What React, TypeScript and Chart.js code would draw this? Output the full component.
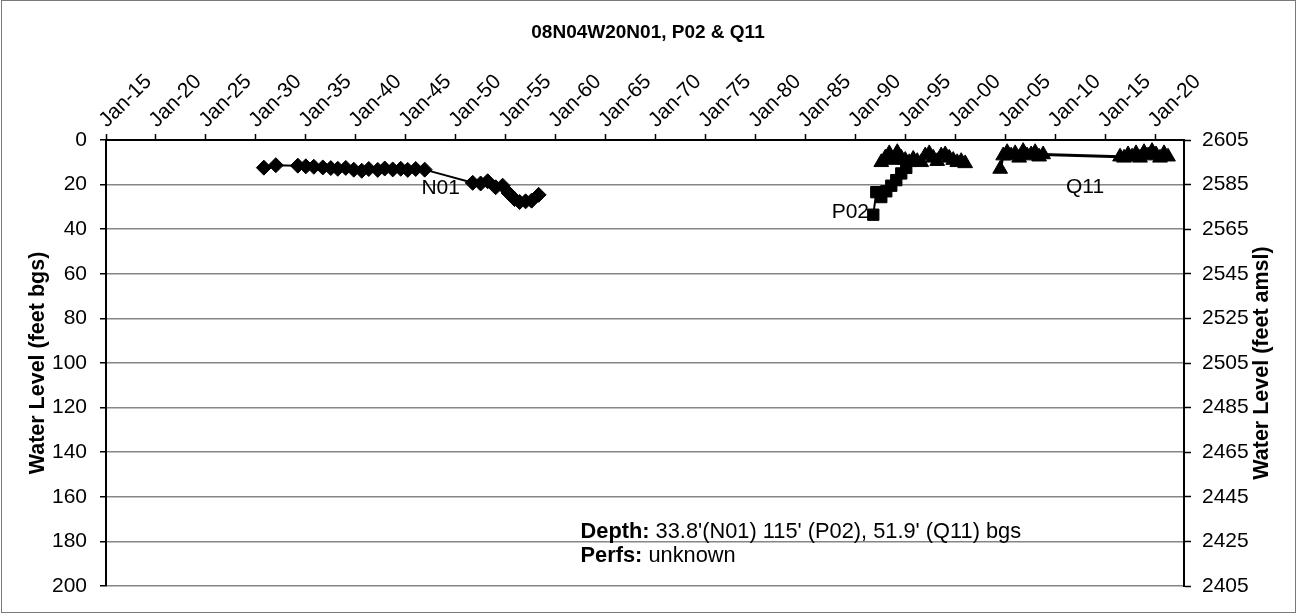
import React, { useEffect, useRef } from 'react';
import { Chart, registerables } from 'chart.js';

Chart.register(...registerables);

const TITLE = '08N04W20N01, P02 & Q11';
const LEFT_TITLE = 'Water Level (feet bgs)';
const RIGHT_TITLE = 'Water Level (feet amsl)';

const X_TICK_YEARS = [1915, 1920, 1925, 1930, 1935, 1940, 1945, 1950, 1955, 1960, 1965, 1970, 1975, 1980, 1985, 1990, 1995, 2000, 2005, 2010, 2015, 2020];
const X_TICK_LABELS = ['Jan-15', 'Jan-20', 'Jan-25', 'Jan-30', 'Jan-35', 'Jan-40', 'Jan-45', 'Jan-50', 'Jan-55', 'Jan-60', 'Jan-65', 'Jan-70', 'Jan-75', 'Jan-80', 'Jan-85', 'Jan-90', 'Jan-95', 'Jan-00', 'Jan-05', 'Jan-10', 'Jan-15', 'Jan-20'];
const LEFT_TICKS = [0, 20, 40, 60, 80, 100, 120, 140, 160, 180, 200];
const RIGHT_TICKS = [2405, 2425, 2445, 2465, 2485, 2505, 2525, 2545, 2565, 2585, 2605];

const N01_YEARS = [1930.8, 1932.0, 1934.2, 1935.0, 1935.8, 1936.7, 1937.5, 1938.2, 1939.0, 1939.8, 1940.6, 1941.3, 1942.2, 1942.9, 1943.7, 1944.5, 1945.2, 1946.0, 1946.9, 1951.7, 1952.5, 1953.2, 1954.0, 1954.7, 1955.3, 1955.9, 1956.4, 1957.0, 1957.6, 1958.3];
const N01_DEPTHS = [12.4, 11.3, 11.5, 11.8, 12.0, 12.3, 12.6, 12.9, 12.5, 13.3, 13.8, 13.0, 13.4, 12.8, 13.2, 12.9, 13.4, 13.0, 13.3, 19.2, 19.5, 18.5, 21.2, 20.5, 23.8, 26.5, 27.8, 27.5, 27.2, 24.6];

const P02_YEARS = [1991.8, 1992.1, 1992.6, 1993.1, 1993.6, 1994.1, 1994.6, 1995.1];
const P02_DEPTHS = [33.5, 23.4, 25.6, 23.0, 20.5, 18.0, 15.0, 12.5];

const P02B_YEARS = [1992.6, 1993.0, 1993.4, 1993.8, 1994.2, 1994.6, 1995.0, 1995.4, 1995.8, 1996.2, 1996.6, 1997.0, 1997.4, 1997.8, 1998.2, 1998.6, 1999.0, 1999.4, 1999.8, 2000.2, 2000.6, 2001.0];
const P02B_DEPTHS = [10.0, 8.0, 6.0, 9.0, 5.5, 8.0, 9.0, 10.0, 8.5, 9.5, 10.0, 7.0, 6.0, 8.0, 9.5, 7.0, 6.5, 8.0, 9.0, 10.0, 9.5, 10.5];

const Q11_YEARS = [2004.5, 2004.8, 2005.2, 2005.6, 2006.0, 2006.4, 2006.8, 2007.2, 2007.6, 2008.0, 2008.4, 2008.8, 2016.5, 2016.9, 2017.3, 2017.7, 2018.1, 2018.5, 2018.9, 2019.3, 2019.7, 2020.1, 2020.5, 2020.9, 2021.3];
const Q11_DEPTHS = [13.0, 7.0, 5.5, 7.0, 6.0, 8.0, 5.0, 7.0, 6.5, 5.5, 7.5, 6.5, 7.5, 8.0, 6.5, 7.5, 6.0, 8.0, 5.5, 7.0, 5.0, 6.5, 8.0, 6.0, 7.5];

const SERIES_LABELS = [
  { text: 'N01', year: 1948.5, depth: 21.5 },
  { text: 'P02', year: 1989.5, depth: 32.3 },
  { text: 'Q11', year: 2013.0, depth: 21.0 },
];

const NOTE_YEAR = 1962.5;
const NOTE_LINES = [
  { bold: 'Depth:', text: " 33.8'(N01) 115' (P02), 51.9' (Q11) bgs", depth: 175.8 },
  { bold: 'Perfs:', text: ' unknown', depth: 186.4 },
];

const FAMILY = '"Liberation Sans", Arial, sans-serif';
const FS = 21;
const FS_BIG = 21.5;
const FS_NOTE = 21.8;
const FS_TITLE = 19;

const toPoints = (xs: number[], ys: number[]) => xs.map((x, i) => ({ x, y: ys[i] }));

const overlay = {
  id: 'overlay',
  afterDraw(chart: any) {
    const { ctx, chartArea } = chart;
    const xs = chart.scales.x;
    const ys = chart.scales.y;
    ctx.save();
    ctx.strokeStyle = '#7a7a7a';
    ctx.lineWidth = 1;
    ctx.strokeRect(1.5, 0.5, 1294, 612);

    ctx.fillStyle = '#000';
    ctx.textBaseline = 'middle';
    ctx.textAlign = 'center';
    ctx.font = `bold ${FS_TITLE}px ${FAMILY}`;
    ctx.fillText(TITLE, 648, 33);

    ctx.font = `bold ${FS_BIG}px ${FAMILY}`;
    const midY = (chartArea.top + chartArea.bottom) / 2;
    ctx.save();
    ctx.translate(38, midY);
    ctx.rotate(-Math.PI / 2);
    ctx.fillText(LEFT_TITLE, 0, 0);
    ctx.restore();
    ctx.save();
    ctx.translate(1262, midY);
    ctx.rotate(-Math.PI / 2);
    ctx.fillText(RIGHT_TITLE, 0, 0);
    ctx.restore();

    // rotated top-axis tick labels
    ctx.font = `${FS}px ${FAMILY}`;
    ctx.textAlign = 'left';
    ctx.textBaseline = 'alphabetic';
    X_TICK_YEARS.forEach((yr, i) => {
      const px = xs.getPixelForValue(yr);
      ctx.save();
      ctx.translate(px + 1, chartArea.top - 12);
      ctx.rotate(-Math.PI / 4);
      ctx.fillText(X_TICK_LABELS[i], 0, 0);
      ctx.restore();
    });

    ctx.textAlign = 'center';
    ctx.textBaseline = 'middle';
    ctx.font = `${FS}px ${FAMILY}`;
    for (const l of SERIES_LABELS) {
      ctx.fillText(l.text, xs.getPixelForValue(l.year), ys.getPixelForValue(l.depth));
    }

    ctx.textAlign = 'left';
    const nx = xs.getPixelForValue(NOTE_YEAR);
    for (const n of NOTE_LINES) {
      const py = ys.getPixelForValue(n.depth);
      ctx.font = `bold ${FS_NOTE}px ${FAMILY}`;
      ctx.fillText(n.bold, nx, py);
      const w = ctx.measureText(n.bold).width;
      ctx.font = `${FS_NOTE}px ${FAMILY}`;
      ctx.fillText(n.text, nx + w, py);
    }
    ctx.restore();
  },
};

export default function App() {
  const ref = useRef<HTMLCanvasElement | null>(null);
  useEffect(() => {
    if (!ref.current) return;
    const font = { family: FAMILY, size: FS };
    const mk = (label: string, xs: number[], ys: number[], style: string, radius: number, lw: number) => ({
      label,
      data: toPoints(xs, ys),
      borderColor: '#000',
      backgroundColor: '#000',
      pointBackgroundColor: '#000',
      pointBorderColor: '#000',
      pointStyle: style,
      pointRadius: radius,
      pointBorderWidth: 1,
      borderWidth: lw,
      showLine: true,
      yAxisID: 'y',
      xAxisID: 'x',
    });
    const chart = new Chart(ref.current, {
      type: 'scatter',
      data: {
        datasets: [
          mk('N01', N01_YEARS, N01_DEPTHS, 'rectRot', 7.5, 2),
          mk('P02', P02_YEARS, P02_DEPTHS, 'rect', 8, 2),
          mk('P02b', P02B_YEARS, P02B_DEPTHS, 'triangle', 8.5, 2),
          mk('Q11', Q11_YEARS, Q11_DEPTHS, 'triangle', 8.5, 3),
        ] as any,
      },
      options: {
        animation: false,
        responsive: false,
        maintainAspectRatio: false,
        layout: { padding: { top: 0, bottom: 28, left: 0, right: 0 } },
        plugins: { legend: { display: false }, tooltip: { enabled: false }, title: { display: false } },
        scales: {
          x: {
            type: 'linear',
            position: 'top',
            min: 1915,
            max: 2022.9,
            afterBuildTicks: (s: any) => { s.ticks = X_TICK_YEARS.map((v) => ({ value: v })); },
            afterFit: (s: any) => { s.height = 140; },
            grid: { drawOnChartArea: false, drawTicks: true, tickLength: 6, tickColor: '#000', tickWidth: 1.5 },
            border: { color: '#000', width: 2 },
            ticks: { display: false, autoSkip: false },
          },
          y: {
            type: 'linear',
            position: 'left',
            reverse: true,
            min: 0,
            max: 200,
            afterBuildTicks: (s: any) => { s.ticks = LEFT_TICKS.map((v) => ({ value: v })); },
            afterFit: (s: any) => { s.width = 106; },
            grid: { color: '#868686', lineWidth: 1.5, tickColor: '#000', tickLength: 6, tickWidth: 1.5 },
            border: { color: '#000', width: 2 },
            ticks: { color: '#000', font, padding: 13, callback: (v: any) => String(v) },
          },
          y2: {
            type: 'linear',
            position: 'right',
            min: 2405,
            max: 2605,
            afterBuildTicks: (s: any) => { s.ticks = RIGHT_TICKS.map((v) => ({ value: v })); },
            afterFit: (s: any) => { s.width = 113; },
            grid: { drawOnChartArea: false, tickColor: '#000', tickLength: 7, tickWidth: 1.5 },
            border: { color: '#000', width: 2 },
            ticks: { color: '#000', font, padding: 11, callback: (v: any) => String(v) },
          },
        },
      } as any,
      plugins: [overlay],
    });
    return () => chart.destroy();
  }, []);
  return (
    <div style={{ position: 'fixed', left: 0, top: 0, width: 1297, height: 614, background: '#fff' }}>
      <canvas ref={ref} width={1297} height={614} style={{ width: 1297, height: 614, display: 'block' }} />
    </div>
  );
}
